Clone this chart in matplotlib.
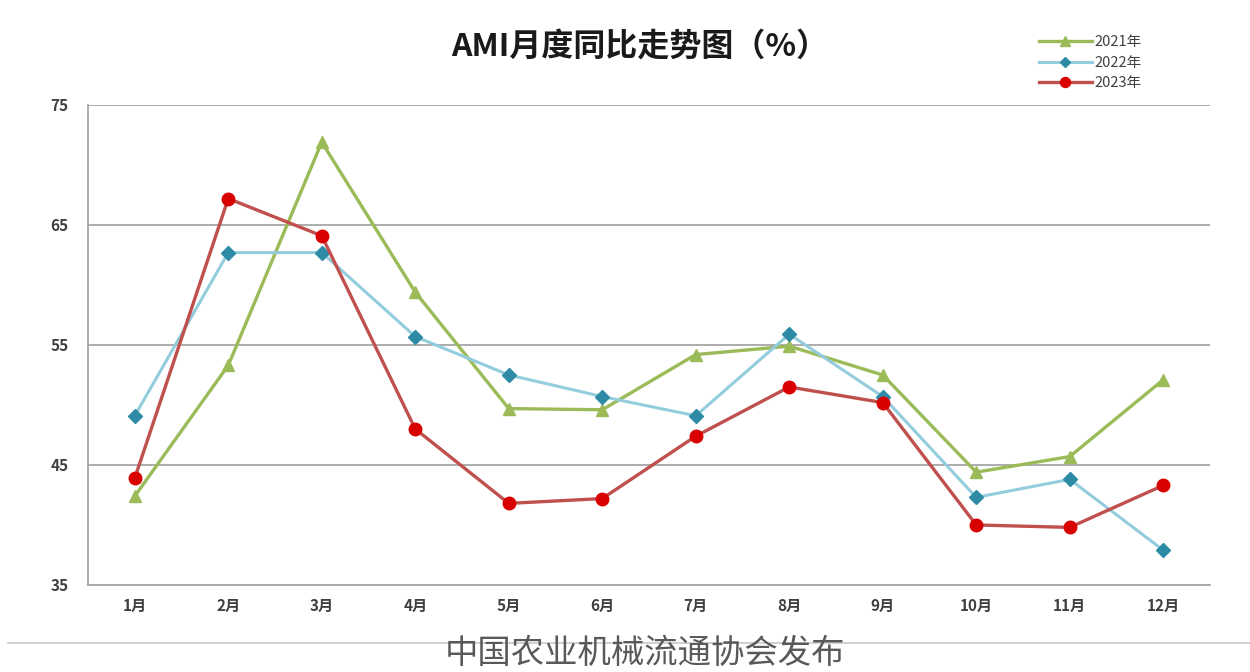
import numpy as np
import matplotlib
matplotlib.use('Agg')
import matplotlib.pyplot as plt

plt.rcParams['font.family'] = ['Noto Sans CJK SC', 'DejaVu Sans']

### monthly year-on-year AMI values (%)
months = ['1月', '2月', '3月', '4月', '5月', '6月', '7月', '8月', '9月', '10月', '11月', '12月']
ami_2021 = [42.4, 53.3, 71.9, 59.4, 49.7, 49.6, 54.2, 54.9, 52.5, 44.4, 45.7, 52.1]
ami_2022 = [49.1, 62.7, 62.7, 55.7, 52.5, 50.7, 49.1, 55.9, 50.7, 42.3, 43.8, 37.9]
ami_2023 = [43.9, 67.2, 64.1, 48.0, 41.8, 42.2, 47.4, 51.5, 50.2, 40.0, 39.8, 43.3]
y_ticks = [35, 45, 55, 65, 75]

fig = plt.figure(figsize=(12.5, 6.72), dpi=100)
ax = fig.add_axes([0.0704, 0.1295, 0.8976, 0.7143])

x = np.arange(len(months))
ax.plot(x, ami_2021, color='#9BBB59', lw=2.4, marker='^', ms=9,
        markerfacecolor='#9BBB59', markeredgecolor='#9BBB59', label='2021年', zorder=3)
ax.plot(x, ami_2022, color='#93CDDD', lw=2.2, marker='D', ms=7,
        markerfacecolor='#2E8BA6', markeredgecolor='#2E8BA6', label='2022年', zorder=4)
ax.plot(x, ami_2023, color='#C0504D', lw=2.4, marker='o', ms=9,
        markerfacecolor='#D90000', markeredgecolor='#D90000', label='2023年', zorder=5)

ax.set_xlim(-0.5, len(months) - 0.5)
ax.set_ylim(35, 75)
ax.set_yticks(y_ticks)
ax.set_xticks(x)
ax.set_xticklabels(months, fontsize=11, fontweight='bold', color='#404040')
for lbl in ax.get_yticklabels():
    lbl.set_fontweight('bold')
ax.tick_params(axis='y', labelsize=11, colors='#404040', length=0, pad=14)
ax.tick_params(axis='x', length=0, pad=9)
ax.yaxis.grid(True, color='#A6A6A6', lw=1.3)
ax.set_axisbelow(True)
for side in ['top', 'right']:
    ax.spines[side].set_visible(False)
for side in ['left', 'bottom']:
    ax.spines[side].set_color('#A6A6A6')
    ax.spines[side].set_linewidth(1.3)

fig.text(0.512, 0.93, 'AMI月度同比走势图（%）', ha='center', va='center',
         fontsize=23, fontweight='bold', color='#1a1a1a')

fig.legend(loc='upper left', bbox_to_anchor=(1026 / 1250, 1 - 22 / 672), frameon=False,
           fontsize=10.5, handlelength=3.6, handletextpad=0.2, labelspacing=0.45,
           markerscale=0.8, labelcolor='#404040')

# footer rule and publisher line
fig.add_artist(plt.Line2D([0.006, 1.0], [1 - 643 / 672, 1 - 643 / 672],
                          transform=fig.transFigure, color='#C8C8C8', lw=1.2))
fig.text(0.516, 0.027, '中国农业机械流通协会发布', ha='center', va='center',
         fontsize=24, color='#595959')

fig.savefig('out.png', dpi=100, facecolor='white')
